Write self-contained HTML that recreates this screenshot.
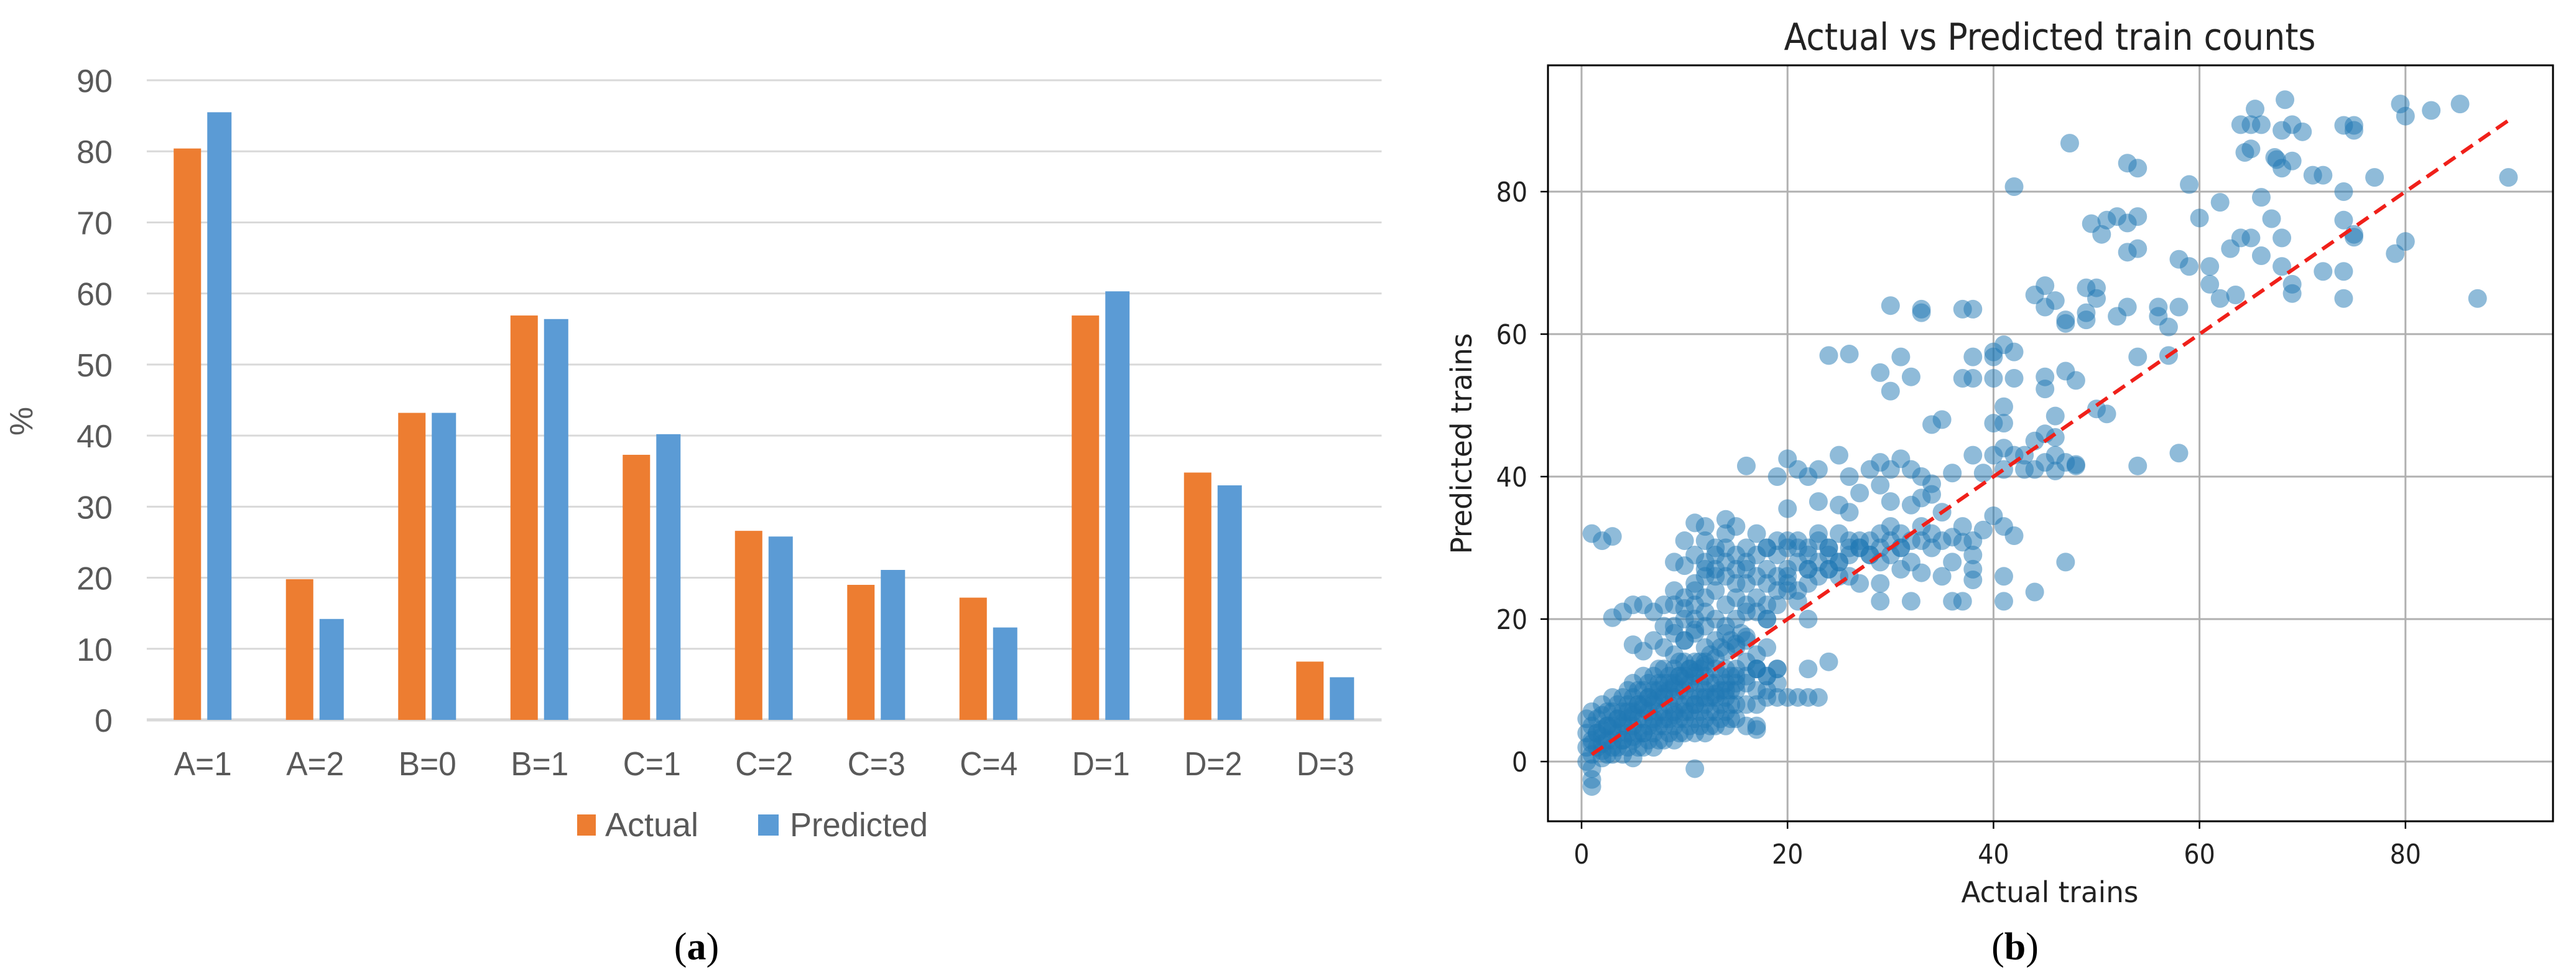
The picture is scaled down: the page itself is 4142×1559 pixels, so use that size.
<!DOCTYPE html>
<html><head><meta charset="utf-8"><style>
html,body{margin:0;padding:0;background:#fff;}
svg{display:block;}
</style></head><body>
<svg id="fig" width="4142" height="1559" viewBox="0 0 4142 1559" xmlns="http://www.w3.org/2000/svg">
<g id="barChart"></g>
<g id="scatterChart"></g>
<text x="1120" y="1542" text-anchor="middle" font-family="Liberation Serif, serif" font-size="62">(<tspan font-weight="bold">a</tspan>)</text>
<text x="3240" y="1542" text-anchor="middle" font-family="Liberation Serif, serif" font-size="62">(<tspan font-weight="bold">b</tspan>)</text>
</svg>
<script>
// ---- Bar chart data ----
const categories = ["A=1","A=2","B=0","B=1","C=1","C=2","C=3","C=4","D=1","D=2","D=3"];
const actualPct = [80.4,19.8,43.2,56.9,37.3,26.6,19.0,17.2,56.9,34.8,8.2];
const predictedPct = [85.5,14.2,43.2,56.4,40.2,25.8,21.1,13.0,60.3,33.0,6.0];
const barTicks = [0,10,20,30,40,50,60,70,80,90];

// ---- Scatter data ----
const actualTrains = [65.4,68.3,79.5,82.5,85.3,80,47.4,64,65,66,68,69,70,74,75,75,64.4,65,67.3,67.5,68,69,53,54,42,59,71,72,77,90,62,66,74,60,67,74,49.5,51,52,53,54,50.5,64,65,68,75,75,53,54,63,66,79,80,58,59,61,68,72,74,61,69,69,74,87,62,63.5,45,44,46,49,50,50,30,33,33,37,38,45,47,47,49,49,52,53,56,56,58,57,24,26,29,30,31,32,37,38,38,40,40,41,42,40,42,45,45,47,48,54,57,50,51,34,35,40,41,41,46,45,46,44,38,40,41,42,43,44,45,46,47,48,48,41,43,46,39,36,54,58,16,19,20,21,22,23,25,26,28,29,30,31,32,33,34,27,29,30,32,20,23,25,26,33,34,35,37,38,39,40,41,42,36,37,38,41,44,41,47,36,37,32,29,29,31,33,35,36,38,38,1,2,3,11,12,14,15,10,12,13,14,16,17,18,19,20,21,22,23,24,25,26,27,28,29,30,31,32,33,34,35,26,27,24,22,20,18,16,15,13,12,9,10,11,14,19,20,21,17,18,6,7,8,9,10,11,12,13,10,9,11,14,15,16,3,5,6,7,8,9,10,12,18,22,4,5,11,18,19,20,21,22,23,22,24,17,18,19,16,15,17,11,1,1,1,0.5,0.5,0.5,0.5,1,1,1,1,1.5,1.5,1.5,2,2,2,2,2,2.5,2.5,2.5,2.5,3,3,3,3,3,3.5,3.5,3.5,3.5,4,4,4,4,4,4.5,4.5,4.5,4.5,4.5,5,5,5,5,5,5,5.5,5.5,5.5,5.5,5.5,6,6,6,6,6,6,6.5,6.5,6.5,6.5,6.5,7,7,7,7,7,7,7.5,7.5,7.5,7.5,7.5,7.5,8,8,8,8,8,8,8.5,8.5,8.5,8.5,8.5,9,9,9,9,9,9,9.5,9.5,9.5,9.5,9.5,9.5,10,10,10,10,10,10,10.5,10.5,10.5,10.5,10.5,11,11,11,11,11,11,11.5,11.5,11.5,11.5,11.5,12,12,12,12,12,12,12.5,12.5,12.5,12.5,13,13,13,13,13,13.5,13.5,13.5,13.5,14,14,14,14,14,14.5,14.5,14.5,14.5,15,15,15,15,16,16,16,17,17,17,17,18,18,19,19,
11,12,13,14,15,16,17,18,19,20,21,22,23,24,25,26,27,28,29,30,31,32,33,34,12,13,14,15,16,17,18,19,20,21,22,23,24,25,26,27,28,29,30,31,9,10,11,12,13,14,15,16,17,18,19,20,21,22,23,24,25,8,9,10,11,12,13,14,15,16,17,18,
1,2,3,4,5,6,7,8,9,10,11,12,13,14,15,16,1.5,2.5,3.5,4.5,5.5,6.5,7.5,8.5,9.5,10.5,11.5,12.5,13.5,14.5,15.5,2,3,4,5,6,7,8,9,10,11,12,13,14,15,16,17];
const predictedTrains = [91.6,92.9,92.3,91.4,92.3,90.6,86.8,89.4,89.4,89.4,88.6,89.4,88.4,89.3,89.3,88.6,85.5,86,84.8,84.5,83.3,84.3,84,83.3,80.7,81,82.3,82.3,82,82,78.5,79.2,80,76.3,76.2,76,75.5,76,76.5,75.6,76.5,74,73.5,73.5,73.5,74,73.6,71.5,72,72,71,71.3,73,70.5,69.5,69.5,69.5,68.8,68.8,67,67,65.7,65,65,65,65.5,66.8,65.5,64.7,66.5,66.5,65,64,63.5,63,63.5,63.5,63.8,62,61.5,63,62,62.5,63.8,63.8,62.5,63.8,61,57,57.2,54.6,52,56.8,54,53.8,53.8,56.8,56.8,57.5,58.5,57.5,53.8,53.8,54,52.3,54.8,53.5,56.8,57,49.5,48.8,47.3,48,47.5,47.5,49.8,48.5,46,45.5,45,43,43,44,43,43,41,42,43,42,41.5,41.7,41,41,40.8,40.5,40.5,41.5,43.3,41.5,40,42.5,41,40,41,43,40,41,42,41,42.5,41,40,39,37.7,38.8,36.5,36,35.5,36.5,36,35,37,37.5,35,33,31,32.5,34.5,33,31.7,31.5,30.8,29,26,23.8,22.5,28,22.5,22.5,22.5,22.5,25,27,26.5,26,28,27,25.5,32,31,31.6,33.5,33,34,33,31,31,30,32,30,32,30,31,30,31,30,32,30,28,30,31,29,28,29,30,28,31,30,31,26,25,27,27,26,27,27,25,26,27,28,27.5,25,28,24,24,22.5,23,22,22,21,22,22,21.5,22,21,20,20,19,18.5,19,20,21,20.2,16.4,15.5,17,16,15,17,16,20,20,21,22,20,9,9,9,9,9,9,13,14,13,12,13,14,12,4.5,-1,-3.5,-2.5,-1,0,2,4,6,1,3,5,7,2,4,6,0.5,2.5,4.5,6.5,8,1,3,5,7,1,3,5,7,9,2,4,6,8,1,3,5,7,9,2,4,6,8,10,0.5,3,5,7,9,11,2,4,6,8,10,2,4,6,8,10,12,3,5,7,9,11,2,4,6,8,10,12,3,5,7,9,11,13,3,5,7,9,11,13,4,6,8,10,12,3,5,7,9,11,13,4,6,8,10,12,14,4,6,8,10,12,14,5,7,9,11,13,4,6,8,10,12,14,5,7,9,11,13,4,6,8,10,12,14,5,7,9,11,5,7,9,11,13,6,8,10,12,5,7,9,11,13,6,8,10,12,6,8,10,13,5,8,11,5,8,10,13,10,12,11,13,
29,28,29,30,29,28,29,30,29,31,30,29,31,30,32,31,30,31,32,33,32,31,33,32,26,27,26,27,25,26,25,26,27,28,27,28,29,28,29,30,29,30,31,30,24,23,24,23,24,22,23,22,21,20,22,25,24,25,26,27,26,19,18,17,18,19,17,18,16,17,15,16,
2.5,3.5,4.5,5.5,6.5,7.5,8.5,9.5,10.5,11.5,12.5,13.5,14.5,15.5,16.5,17.5,4,5,6,7,8,9,10,11,12,13,14,15,16,17,18,1.5,2,3,3.5,4,5.5,6,6.5,7,8,9,9.5,10,11,12,13];
const scatterXTicks = [0,20,40,60,80];
const scatterYTicks = [0,20,40,60,80];

const NS = "http://www.w3.org/2000/svg";
function mk(tag, attrs, parent){ const e=document.createElementNS(NS,tag); for(const k in attrs) e.setAttribute(k,attrs[k]); parent.appendChild(e); return e; }

// ---- Bar chart ----
(function(){
  const g = document.getElementById('barChart');
  const x0=236, catW=180.5, y0=1157, yTop=129, vmax=90;
  const yScale = v => y0 - v*(y0-yTop)/vmax;
  const cx = i => x0 + (i+0.5)*catW;
  const narrow = '"Liberation Sans Narrow","Liberation Sans",sans-serif';
  barTicks.forEach(t=>{
    const ln = mk('line',{x1:x0,x2:x0+categories.length*catW,y1:yScale(t),y2:yScale(t),stroke:'#d9d9d9','stroke-width':t===0?5:3},g);
    
    
    const tx = mk('text',{x:181,y:yScale(t)+19,'text-anchor':'end','font-family':narrow,'font-size':52,fill:'#595959'},g);
    tx.textContent = t;
    
    
  });
  const yl = mk('text',{x:0,y:0,transform:'translate(52,677) rotate(-90)','text-anchor':'middle','font-family':narrow,'font-size':52,fill:'#595959'},g);
  yl.textContent='%';
  
  
  categories.forEach((c,i)=>{
    const a = mk('rect',{x:cx(i)-47,y:yScale(actualPct[i]),width:44,height:y0-yScale(actualPct[i]),fill:'#ed7d31'},g);
    
    
    const p = mk('rect',{x:cx(i)+7,y:yScale(predictedPct[i]),width:39,height:y0-yScale(predictedPct[i]),fill:'#5b9bd5'},g);
    
    
    const t = mk('text',{x:cx(i),y:1246,'text-anchor':'middle','font-family':narrow,'font-size':54,fill:'#595959',textLength:93,lengthAdjust:'spacingAndGlyphs'},g);
    t.textContent=c;
    
    
  });
  const s1 = mk('rect',{x:928,y:1309,width:30,height:34,fill:'#ed7d31'},g);
  
  
  const l1 = mk('text',{x:973,y:1344,'font-family':narrow,'font-size':54,fill:'#595959',textLength:150,lengthAdjust:'spacingAndGlyphs'},g);
  l1.textContent='Actual';
  
  
  const s2 = mk('rect',{x:1219,y:1309,width:33,height:34,fill:'#5b9bd5'},g);
  
  
  const l2 = mk('text',{x:1270,y:1344,'font-family':narrow,'font-size':54,fill:'#595959',textLength:222,lengthAdjust:'spacingAndGlyphs'},g);
  l2.textContent='Predicted';
  
  
})();

// ---- Scatter chart ----
(function(){
  const g = document.getElementById('scatterChart');
  const L=2489,R=4105,T=105,B=1320;
  const xs = v => 2543 + v*16.56;
  const ys = v => 1224 - v*11.45;
  const font = '"DejaVu Sans Condensed","DejaVu Sans",sans-serif';
  scatterXTicks.forEach(t=>{
    const ln = mk('line',{x1:xs(t),x2:xs(t),y1:T,y2:B,stroke:'#b0b0b0','stroke-width':3},g);
    
    
    mk('line',{x1:xs(t),x2:xs(t),y1:B,y2:B+12,stroke:'#000','stroke-width':2.5},g);
    const tx = mk('text',{x:xs(t),y:1388,'text-anchor':'middle','font-family':font,'font-size':44,fill:'#222'},g);
    tx.textContent=t;
    
    
  });
  scatterYTicks.forEach(t=>{
    const ln = mk('line',{x1:L,x2:R,y1:ys(t),y2:ys(t),stroke:'#b0b0b0','stroke-width':3},g);
    
    
    mk('line',{x1:L-12,x2:L,y1:ys(t),y2:ys(t),stroke:'#000','stroke-width':2.5},g);
    const tx = mk('text',{x:2456,y:ys(t)+16,'text-anchor':'end','font-family':font,'font-size':44,fill:'#222'},g);
    tx.textContent=t;
    
    
  });
  for(let i=0;i<actualTrains.length;i++){
    const c = mk('circle',{cx:xs(actualTrains[i]),cy:ys(predictedTrains[i]),r:15,fill:'#1f77b4','fill-opacity':0.5},g);
    
    
  }
  const dl = mk('line',{x1:xs(1),y1:ys(1),x2:xs(90),y2:ys(90),stroke:'#f0201a','stroke-width':6,'stroke-dasharray':'22 12'},g);
  
  
  const fr = mk('rect',{x:L,y:T,width:R-L,height:B-T,fill:'none',stroke:'#000','stroke-width':3},g);
  
  
  const title = mk('text',{x:3296,y:80,'text-anchor':'middle','font-family':font,'font-size':60,fill:'#222',textLength:855,lengthAdjust:'spacingAndGlyphs'},g);
  title.textContent='Actual vs Predicted train counts';
  
  
  const xt = mk('text',{x:3296,y:1450,'text-anchor':'middle','font-family':font,'font-size':46,fill:'#222',textLength:285,lengthAdjust:'spacingAndGlyphs'},g);
  xt.textContent='Actual trains';
  
  
  const yt = mk('text',{x:0,y:0,transform:'translate(2366,713) rotate(-90)','text-anchor':'middle','font-family':font,'font-size':46,fill:'#222',textLength:355,lengthAdjust:'spacingAndGlyphs'},g);
  yt.textContent='Predicted trains';
  
  
})();
</script>
</body></html>
